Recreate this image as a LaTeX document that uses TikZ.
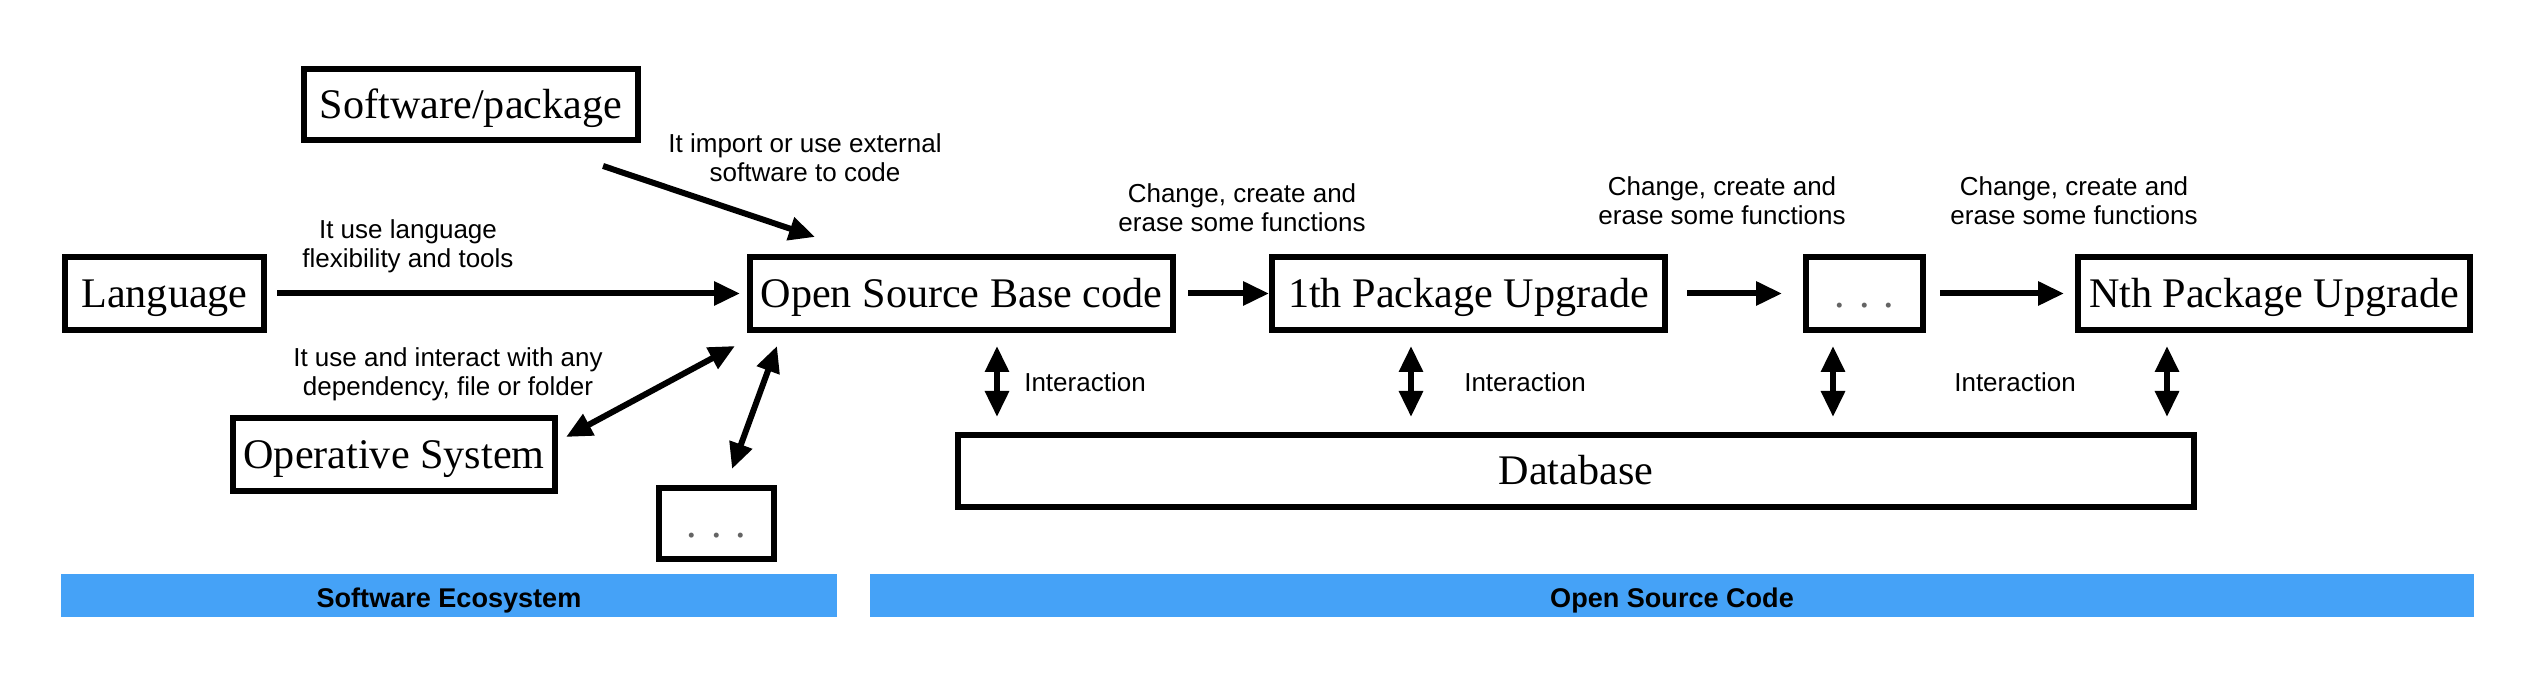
\documentclass[tikz,border=0pt]{standalone}
\usepackage{fontspec}
\setmainfont{Liberation Serif}
\setsansfont{Liberation Sans}
\usetikzlibrary{arrows.meta,calc}
\definecolor{bandblue}{RGB}{69,162,247}
\definecolor{dotgray}{RGB}{100,100,100}
\newcommand\bxstrut{\rule[-3pt]{0pt}{13.7pt}}
\newcommand\bdstrut{\rule[-1.9pt]{0pt}{10.9pt}}
\begin{document}
\begin{tikzpicture}[x=0.1mm,y=-0.1mm,
  box/.style={draw,line width=0.6mm,inner sep=0pt,font=\fontsize{12}{14}\selectfont},
  lbl/.style={font=\sffamily\fontsize{7.4}{8.3}\selectfont,align=center,inner sep=0pt},
  band/.style={fill=bandblue,inner sep=0pt,minimum height=4.3mm,font=\sffamily\bfseries\fontsize{7.7}{9}\selectfont},
  conn/.style={line width=0.6mm,-{Triangle[length=2.6mm,width=2.3mm]}},
  dconn/.style={line width=0.6mm,{Triangle[length=2.6mm,width=2.3mm]}-{Triangle[length=2.6mm,width=2.3mm]}}]
\useasboundingbox (0,0) rectangle (2542,682);
% boxes
\node[box,minimum width=33.4mm,minimum height=7.1mm] (soft) at (471,104.5) {\bxstrut Software/package};
\node[box,minimum width=19.9mm,minimum height=7.3mm] (lang) at (164.5,293.5) {\bxstrut Language};
\node[box,minimum width=42.3mm,minimum height=7.3mm] (osb) at (961.5,293.5) {\bxstrut Open Source Base code};
\node[box,minimum width=39.3mm,minimum height=7.3mm] (up1) at (1468.5,293.5) {\bxstrut 1th Package Upgrade};
\node[box,minimum width=11.7mm,minimum height=7.3mm] (dots) at (1864.5,293.5) {\bxstrut\color{dotgray}. . .};
\node[box,minimum width=39.2mm,minimum height=7.3mm] (upN) at (2274,293.5) {\bxstrut Nth Package Upgrade};
\node[box,minimum width=32.2mm,minimum height=7.3mm] (os) at (394,454.5) {\bxstrut Operative System};
\node[box,minimum width=11.5mm,minimum height=7.1mm] (sdots) at (716.5,523.5) {\bxstrut\color{dotgray}. . .};
\node[box,minimum width=123.6mm,minimum height=7.2mm] (db) at (1576,471) {\bxstrut Database};
% bands
\node[band,minimum width=77.6mm] (band1) at (449,595.5) {\bdstrut Software Ecosystem};
\node[band,minimum width=160.4mm] (band2) at (1672,595.5) {\bdstrut Open Source Code};
% labels
\node[lbl] (limp) at (805,157.5) {It import or use external\\software to code};
\node[lbl] (llang) at (408,246) {It use language\\flexibility and tools};
\node[lbl] (los) at (448,374) {It use and interact with any\\dependency, file or folder};
\node[lbl] (c1) at (1242,208) {Change, create and\\erase some functions};
\node[lbl] (c2) at (1722,201) {Change, create and\\erase some functions};
\node[lbl] (c3) at (2074,201) {Change, create and\\erase some functions};
\node[lbl] (i1l) at (1085,382) {Interaction};
\node[lbl] (i2l) at (1525,382) {Interaction};
\node[lbl] (i3l) at (2015,382) {Interaction};
% horizontal connectors
\draw[conn,shorten <=1.0mm,shorten >=0.7mm] (lang.east) -- (osb.west);
\draw[conn,shorten <=1.2mm] (osb.east) -- (up1.west);
\draw[conn,shorten <=1.9mm,shorten >=2.1mm] (up1.east) -- (dots.west);
\draw[conn,shorten <=1.4mm,shorten >=1.1mm] (dots.east) -- (upN.west);
% diagonal connectors
\draw[conn] ($(soft.south east)+(-38,23)$) -- ($(osb.north west)+(68,-17)$);
\draw[dconn] ($(os.north east)+(8,22)$) -- ($(osb.south west)+(-12,13)$);
\draw[dconn] ($(osb.south west)+(30,13)$) -- ($(sdots.north)+(15.5,-16)$);
% interaction connectors
\coordinate (ia) at ($(osb.south)+(35.5,0)$);
\coordinate (ib) at ($(up1.south)+(-57.5,0)$);
\coordinate (ic) at ($(dots.south)+(-31.5,0)$);
\coordinate (id) at ($(upN.south)+(-107,0)$);
\foreach \c in {ia,ib,ic,id}{
  \draw[dconn,shorten <=1.3mm,shorten >=1.5mm] (\c) -- (\c |- db.north);
}
\end{tikzpicture}
\end{document}
